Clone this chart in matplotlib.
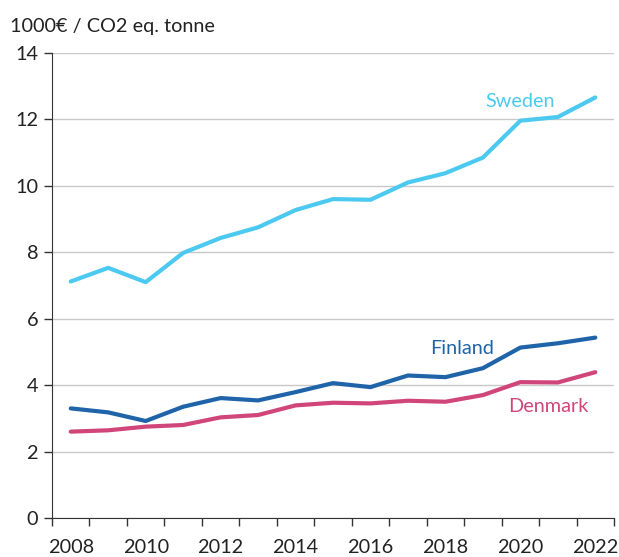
import numpy as np
import matplotlib.pyplot as plt

plt.rcParams['font.family'] = ['Lato', 'DejaVu Sans']

years = list(range(2008, 2023))
sweden = [7.12, 7.53, 7.10, 7.98, 8.43, 8.75, 9.27, 9.60, 9.58, 10.10, 10.38, 10.85, 11.96, 12.07, 12.66]
finland = [3.30, 3.18, 2.92, 3.35, 3.61, 3.54, 3.79, 4.06, 3.94, 4.29, 4.24, 4.51, 5.13, 5.26, 5.43]
denmark = [2.60, 2.64, 2.75, 2.80, 3.03, 3.10, 3.39, 3.47, 3.45, 3.53, 3.50, 3.70, 4.09, 4.08, 4.39]

c_swe, c_fin, c_den = '#4cc9f0', '#1f64a9', '#d1467a'
fs = 14.3

fig = plt.figure(figsize=(6.19, 5.57), dpi=100)
ax = fig.add_axes([0.084, 0.07, 0.908, 0.835])

x = np.arange(len(years))
ax.plot(x, sweden, color=c_swe, lw=3, solid_capstyle='round', zorder=3)
ax.plot(x, finland, color=c_fin, lw=3, solid_capstyle='round', zorder=3)
ax.plot(x, denmark, color=c_den, lw=3, solid_capstyle='round', zorder=3)

ax.text(12.0, 12.55, 'Sweden', color=c_swe, fontsize=fs, ha='center', va='center')
ax.text(10.45, 5.1, 'Finland', color=c_fin, fontsize=fs, ha='center', va='center')
ax.text(12.75, 3.37, 'Denmark', color=c_den, fontsize=fs, ha='center', va='center')

ax.set_xlim(-0.5, len(years) - 0.5)
ax.set_ylim(0, 14)
ax.set_yticks(range(0, 15, 2))
ax.yaxis.grid(True, color='#c8c8c8', lw=1)
ax.set_axisbelow(True)

ax.set_xticks(x[::2])
ax.set_xticklabels([str(y) for y in years[::2]])
ax.set_xticks(np.arange(-0.5, len(years)), minor=True)
ax.tick_params(axis='x', which='major', length=0, pad=15)
ax.tick_params(axis='x', which='minor', length=6, width=1, color='#333333')
ax.tick_params(axis='y', length=6, width=1, color='#333333', pad=4)
ax.tick_params(labelsize=fs, labelcolor='#222222')

for s in ['top', 'right']:
    ax.spines[s].set_visible(False)
for s in ['left', 'bottom']:
    ax.spines[s].set_color('#333333')

fig.text(0.016, 0.953, '1000€ / CO2 eq. tonne', fontsize=fs, color='#222222', va='center')

fig.savefig('out.png', dpi=100)
